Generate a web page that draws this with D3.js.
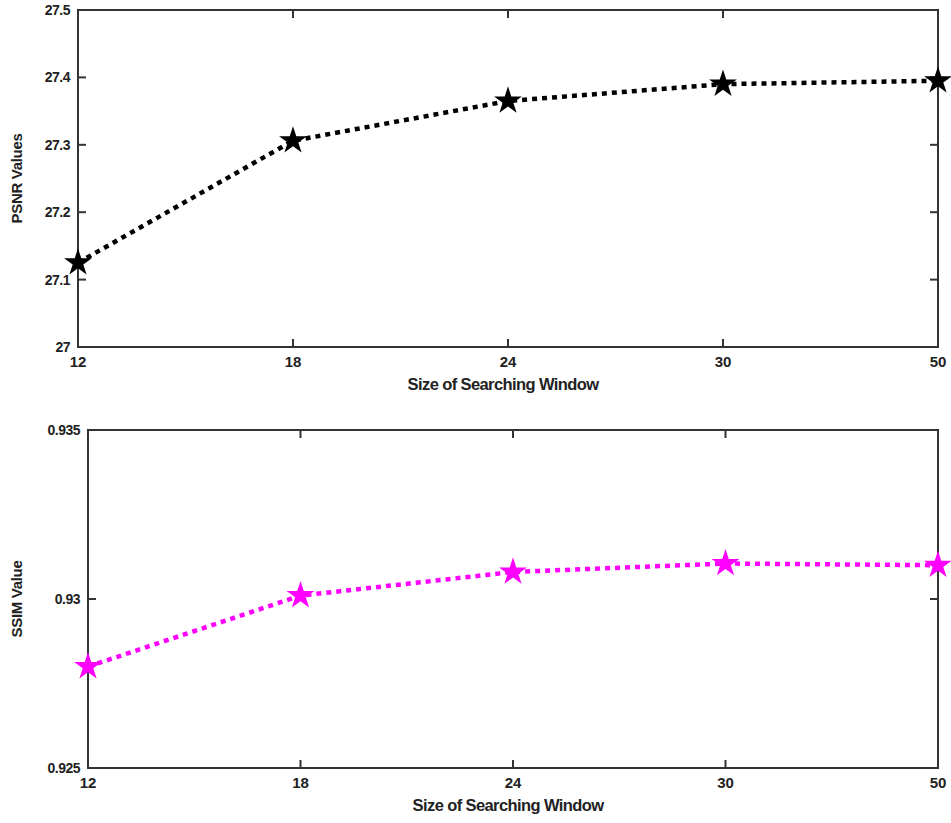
<!DOCTYPE html>
<html><head><meta charset="utf-8">
<script src="https://cdn.jsdelivr.net/npm/d3@7"></script>
<style>body{margin:0;background:#fff}text{font-family:"Liberation Sans",Arial,sans-serif;font-weight:bold;fill:#222}</style>
</head><body><svg id="c" width="951" height="823"></svg>
<script>
const categories = ["12","18","24","30","50"];
const psnrValues = [27.125, 27.306, 27.365, 27.390, 27.395];
const ssimValues = [0.9280, 0.9301, 0.9308, 0.93105, 0.9310];
const psnrTicks = [27, 27.1, 27.2, 27.3, 27.4, 27.5];
const ssimTicks = [0.925, 0.93, 0.935];

const svg = d3.select("#c");

function panel(cfg){
  const g = svg.append("g");
  const x = d3.scalePoint().domain(categories).range([cfg.left, cfg.right]);
  const y = d3.scaleLinear().domain(cfg.domain).range([cfg.bottom, cfg.top]);
  g.append("rect").attr("x",cfg.left).attr("y",cfg.top)
    .attr("width",cfg.right-cfg.left).attr("height",cfg.bottom-cfg.top)
    .attr("fill","none").attr("stroke","#333").attr("stroke-width",2);
  cfg.ticks.forEach(t=>{
    if(t===cfg.domain[0]||t===cfg.domain[1]) return;
    g.append("line").attr("x1",cfg.left).attr("x2",cfg.left+8).attr("y1",y(t)).attr("y2",y(t)).attr("stroke","#333").attr("stroke-width",2);
    g.append("line").attr("x1",cfg.right).attr("x2",cfg.right-8).attr("y1",y(t)).attr("y2",y(t)).attr("stroke","#333").attr("stroke-width",2);
  });
  cfg.ticks.forEach(t=>{
    g.append("text").attr("x",cfg.left-8).attr("y",y(t)+5).attr("text-anchor","end")
      .attr("font-size",14).attr("letter-spacing",-0.5).text(cfg.fmt(t));
  });
  categories.forEach((c,i)=>{
    if(i>0 && i<categories.length-1){
      g.append("line").attr("x1",x(c)).attr("x2",x(c)).attr("y1",cfg.bottom).attr("y2",cfg.bottom-8).attr("stroke","#333").attr("stroke-width",2);
      g.append("line").attr("x1",x(c)).attr("x2",x(c)).attr("y1",cfg.top).attr("y2",cfg.top+8).attr("stroke","#333").attr("stroke-width",2);
    }
    g.append("text").attr("x",x(c)).attr("y",cfg.bottom+20).attr("text-anchor","middle")
      .attr("font-size",15).text(c);
  });
  g.append("text").attr("x",(cfg.left+cfg.right)/2-5).attr("y",cfg.bottom+43).attr("text-anchor","middle")
    .attr("font-size",16.5).attr("letter-spacing",-0.6).text("Size of Searching Window");
  g.append("text").attr("transform",`translate(${cfg.ylabX},${(cfg.top+cfg.bottom)/2}) rotate(-90)`)
    .attr("text-anchor","middle").attr("font-size",15).attr("letter-spacing",-0.3).text(cfg.ylabel);
  const line = d3.line().x((d,i)=>x(categories[i])).y(d=>y(d));
  g.append("path").datum(cfg.values).attr("d",line).attr("fill","none")
    .attr("stroke",cfg.color).attr("stroke-width",4.5).attr("stroke-dasharray","5,5");
  g.selectAll(".m").data(cfg.values).enter().append("path")
    .attr("transform",(d,i)=>`translate(${x(categories[i])},${y(d)})`)
    .attr("d",d3.symbol().type(d3.symbolStar).size(240)).attr("fill",cfg.color);
}

panel({left:78,right:938,top:10,bottom:347,domain:[27,27.5],ticks:psnrTicks,values:psnrValues,
  color:"#000",ylabel:"PSNR Values",ylabX:22,fmt:d=>d3.format("")(+d.toFixed(1))});
panel({left:88,right:938,top:430,bottom:768,domain:[0.925,0.935],ticks:ssimTicks,values:ssimValues,
  color:"#ff00ff",ylabel:"SSIM Value",ylabX:22,fmt:d=>d3.format("")(+d.toFixed(3))});
</script></body></html>
